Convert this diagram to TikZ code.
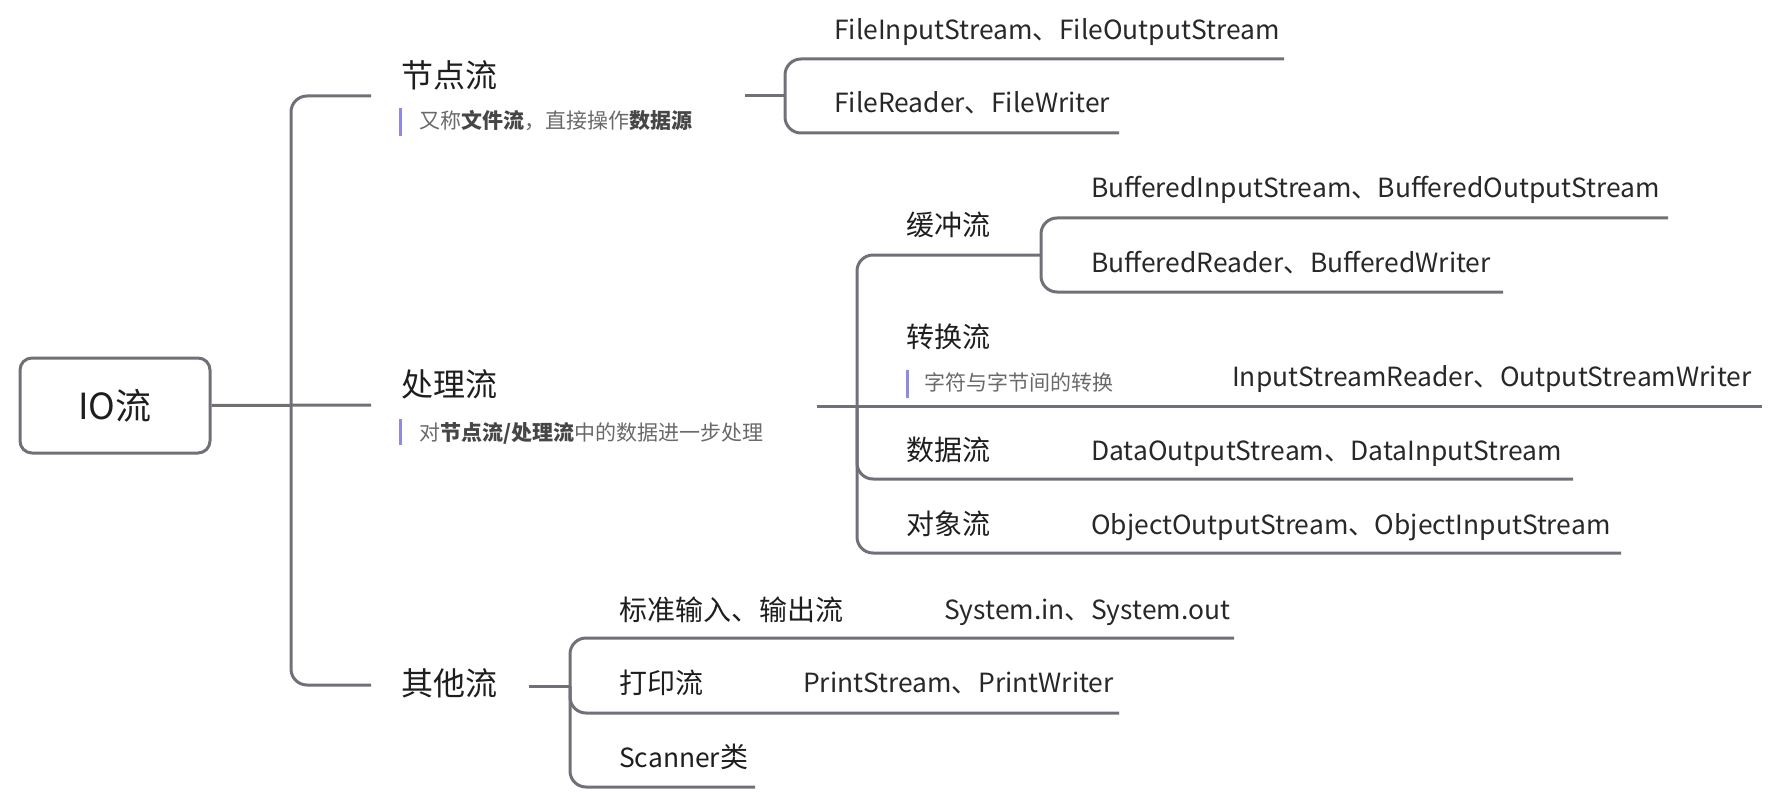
\documentclass[tikz,border=0pt]{standalone}
\usepackage{fontspec}
\setmainfont{Noto Sans CJK SC}
\definecolor{lineC}{RGB}{112,112,120}
\definecolor{titleC}{RGB}{30,30,30}
\definecolor{leafC}{RGB}{40,40,40}
\definecolor{noteC}{RGB}{105,105,105}
\definecolor{noteB}{RGB}{70,70,70}
\definecolor{barC}{RGB}{140,140,230}
\newcommand\notebf[1]{\textbf{\color{noteB}#1}}
\begin{document}
\begin{tikzpicture}[x=1pt,y=-1pt,
  conn/.style={draw=lineC,line width=3pt,rounded corners=16pt},
  rootbox/.style={draw=lineC,line width=3pt,rounded corners=12pt,minimum width=190pt,minimum height=95pt,inner sep=0pt,font=\fontsize{36}{42}\selectfont,text=titleC},
  maintitle/.style={anchor=base west,inner sep=0pt,font=\fontsize{32}{38}\selectfont,text=titleC},
  subtitle/.style={anchor=base west,inner sep=0pt,font=\fontsize{28}{34}\selectfont,text=titleC},
  leaf/.style={anchor=base west,inner sep=0pt,font=\fontsize{26.4}{32}\selectfont,text=leafC},
  notetext/.style={anchor=base west,inner sep=0pt,font=\fontsize{21}{26}\selectfont,text=noteC},
  notebar/.style={draw=barC,line width=3pt}]
\useasboundingbox (0,0) rectangle (1777,805);

% root
\node[rootbox] (root) at (115,405.5) {IO流};

% main titles
\node[maintitle] (n1) at (401,87.5) {节点流};
\node[notetext] (n1note) at (419,129) {又称\notebf{文件流}，直接操作\notebf{数据源}};
\node[maintitle] (n2) at (401,396.5) {处理流};
\node[notetext] (n2note) at (419,440) {对\notebf{节点流/处理流}中的数据进一步处理};
\node[maintitle] (n3) at (401,695) {其他流};

% note bars
\coordinate (b1t) at (400,108); \coordinate (b1b) at (400,136);
\coordinate (b2t) at (400,419); \coordinate (b2b) at (400,445);
\coordinate (b3t) at (907,370); \coordinate (b3b) at (907,398);
\draw[notebar] (b1t) -- (b1b);
\draw[notebar] (b2t) -- (b2b);
\draw[notebar] (b3t) -- (b3b);

% main trunk
\coordinate (J0) at (291,405);
\coordinate (A1) at (371,96);
\coordinate (A2) at (371,405);
\coordinate (A3) at (371,685);
\draw[conn] (root.east) -- (A2);
\draw[conn] (J0) |- (A1);
\draw[conn] (J0) |- (A3);

% 节点流 children
\node[leaf] (l11) at (834,40) {FileInputStream、FileOutputStream};
\node[leaf] (l12) at (834,113) {FileReader、FileWriter};
\coordinate (B0) at (745,96); \coordinate (J1) at (785,96);
\coordinate (L11e) at (1284,59); \coordinate (L12e) at (1119,133);
\draw[conn] (B0) -- (J1);
\draw[conn] (J1) |- (L11e);
\draw[conn] (J1) |- (L12e);

% 处理流 children
\node[subtitle] (s1) at (906,236) {缓冲流};
\node[subtitle] (s2) at (906,347) {转换流};
\node[notetext] (s2note) at (924,390) {字符与字节间的转换};
\node[subtitle] (s3) at (906,460) {数据流};
\node[subtitle] (s4) at (906,534) {对象流};
\coordinate (C0) at (817,406); \coordinate (J2) at (857,406);
\coordinate (S1e) at (1041,255);
\coordinate (S2e) at (1762,406);
\coordinate (S3e) at (1573,479);
\coordinate (S4e) at (1621,553);
\draw[conn] (C0) -- (J2);
\draw[conn] (J2) |- (S1e);
\draw[conn] (J2) -- (S2e);
\draw[conn] (J2) |- (S3e);
\draw[conn] (J2) |- (S4e);

\node[leaf] (l21) at (1091,198) {BufferedInputStream、BufferedOutputStream};
\node[leaf] (l22) at (1091,272) {BufferedReader、BufferedWriter};
\node[leaf] (l23) at (1232,386) {InputStreamReader、OutputStreamWriter};
\node[leaf] (l24) at (1091,460) {DataOutputStream、DataInputStream};
\node[leaf] (l25) at (1091,534) {ObjectOutputStream、ObjectInputStream};
\coordinate (J3) at (1041,255);
\coordinate (L21e) at (1668,218); \coordinate (L22e) at (1503,292);
\draw[conn] (J3) |- (L21e);
\draw[conn] (J3) |- (L22e);

% 其他流 children
\node[subtitle] (t1) at (619,620) {标准输入、输出流};
\node[subtitle] (t2) at (619,693) {打印流};
\node[subtitle] (t3) at (619,767) {{\fontsize{26.4}{32}\selectfont Scanner}类};
\node[leaf] (l31) at (944,619) {System.in、System.out};
\node[leaf] (l32) at (803,692) {PrintStream、PrintWriter};
\coordinate (D0) at (529,686); \coordinate (J4) at (570,686);
\coordinate (T1e) at (1234,638); \coordinate (T2e) at (1119,713); \coordinate (T3e) at (755,787);
\draw[conn] (D0) -- (J4);
\draw[conn] (J4) |- (T1e);
\draw[conn] (J4) |- (T2e);
\draw[conn] (J4) |- (T3e);
\end{tikzpicture}
\end{document}
